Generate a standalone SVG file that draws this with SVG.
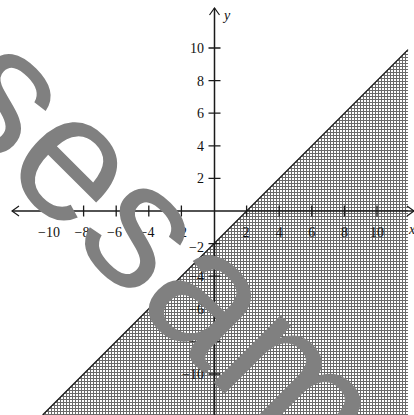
<svg xmlns="http://www.w3.org/2000/svg" width="414" height="415" viewBox="0 0 414 415">
<style>
.ax{stroke:#1a1a1a;stroke-width:1.5;fill:none}
.tk{stroke:#1a1a1a;stroke-width:1.3;fill:none}
.lb{font-family:"Liberation Serif",serif;font-size:14px;fill:#111}
.xl{text-anchor:middle}
.yl{text-anchor:end}
.var{font-family:"Liberation Serif",serif;font-size:14px;font-style:italic;fill:#111}
.wm{font-family:"Liberation Sans",Arial,sans-serif;font-size:180px;fill:#808080}
</style>
<defs>
<pattern id="dots" width="3" height="3" patternUnits="userSpaceOnUse">
<rect width="3" height="3" fill="#ffffff"/>
<rect x="0" y="0" width="3" height="1" fill="#6a6a6a"/>
<rect x="0" y="0" width="1" height="3" fill="#6a6a6a"/>
</pattern>
<marker id="arr" viewBox="-8 -6 9 12" refX="0" refY="0" markerWidth="9" markerHeight="12" markerUnits="userSpaceOnUse" orient="auto-start-reverse">
<path d="M-7,-5 L0,0 L-7,5" fill="none" stroke="#1a1a1a" stroke-width="1.2"/>
</marker>
</defs>
<rect width="414" height="415" fill="#ffffff"/>
<g id="region">
<polygon points="42.6,415 408,49.6 408,415" fill="url(#dots)" shape-rendering="crispEdges"/>
<line x1="42.6" y1="415" x2="408" y2="49.6" stroke="#111" stroke-width="1.2"/>
</g>
<g id="axes">
<line class="ax" x1="214.5" y1="415" x2="214.5" y2="8" marker-end="url(#arr)"/>
<line class="ax" x1="414" y1="211" x2="12" y2="211" marker-end="url(#arr)" marker-start="url(#arr)"/>
<text class="var" x="224" y="20">y</text>
<text class="var" x="409" y="234">x</text>
</g>
<g id="xticks">
<path class="tk" d="M51,205.5v11 M83.6,205.5v11 M116.2,205.5v11 M148.8,205.5v11 M181.4,205.5v11 M246.6,205.5v11 M279.2,205.5v11 M311.8,205.5v11 M344.4,205.5v11 M377,205.5v11"/>
<text class="lb xl" x="49" y="237">−10</text>
<text class="lb xl" x="82" y="237">−8</text>
<text class="lb xl" x="114.5" y="237">−6</text>
<text class="lb xl" x="147" y="237">−4</text>
<text class="lb xl" x="179.5" y="237">−2</text>
<text class="lb xl" x="246" y="237">2</text>
<text class="lb xl" x="279.2" y="237">4</text>
<text class="lb xl" x="311.8" y="237">6</text>
<text class="lb xl" x="344.4" y="237">8</text>
<text class="lb xl" x="377" y="237">10</text>
</g>
<g id="yticks">
<path class="tk" d="M208.5,48h12 M208.5,80.6h12 M208.5,113.2h12 M208.5,145.8h12 M208.5,178.4h12 M208.5,243.6h12 M208.5,276.2h12 M208.5,308.8h12 M208.5,341.4h12 M208.5,374h12"/>
<text class="lb yl" x="204" y="53">10</text>
<text class="lb yl" x="204" y="85.6">8</text>
<text class="lb yl" x="204" y="118.2">6</text>
<text class="lb yl" x="204" y="150.8">4</text>
<text class="lb yl" x="204" y="183.4">2</text>
<text class="lb yl" x="204" y="252">−2</text>
<text class="lb yl" x="204" y="281.2">−4</text>
<text class="lb yl" x="204" y="313.8">−6</text>
<text class="lb yl" x="204" y="346.4">−8</text>
<text class="lb yl" x="204" y="379">−10</text>
</g>
<g id="watermark">
<text class="wm" transform="translate(-64,105) rotate(45)">sesam</text>
</g>
</svg>
